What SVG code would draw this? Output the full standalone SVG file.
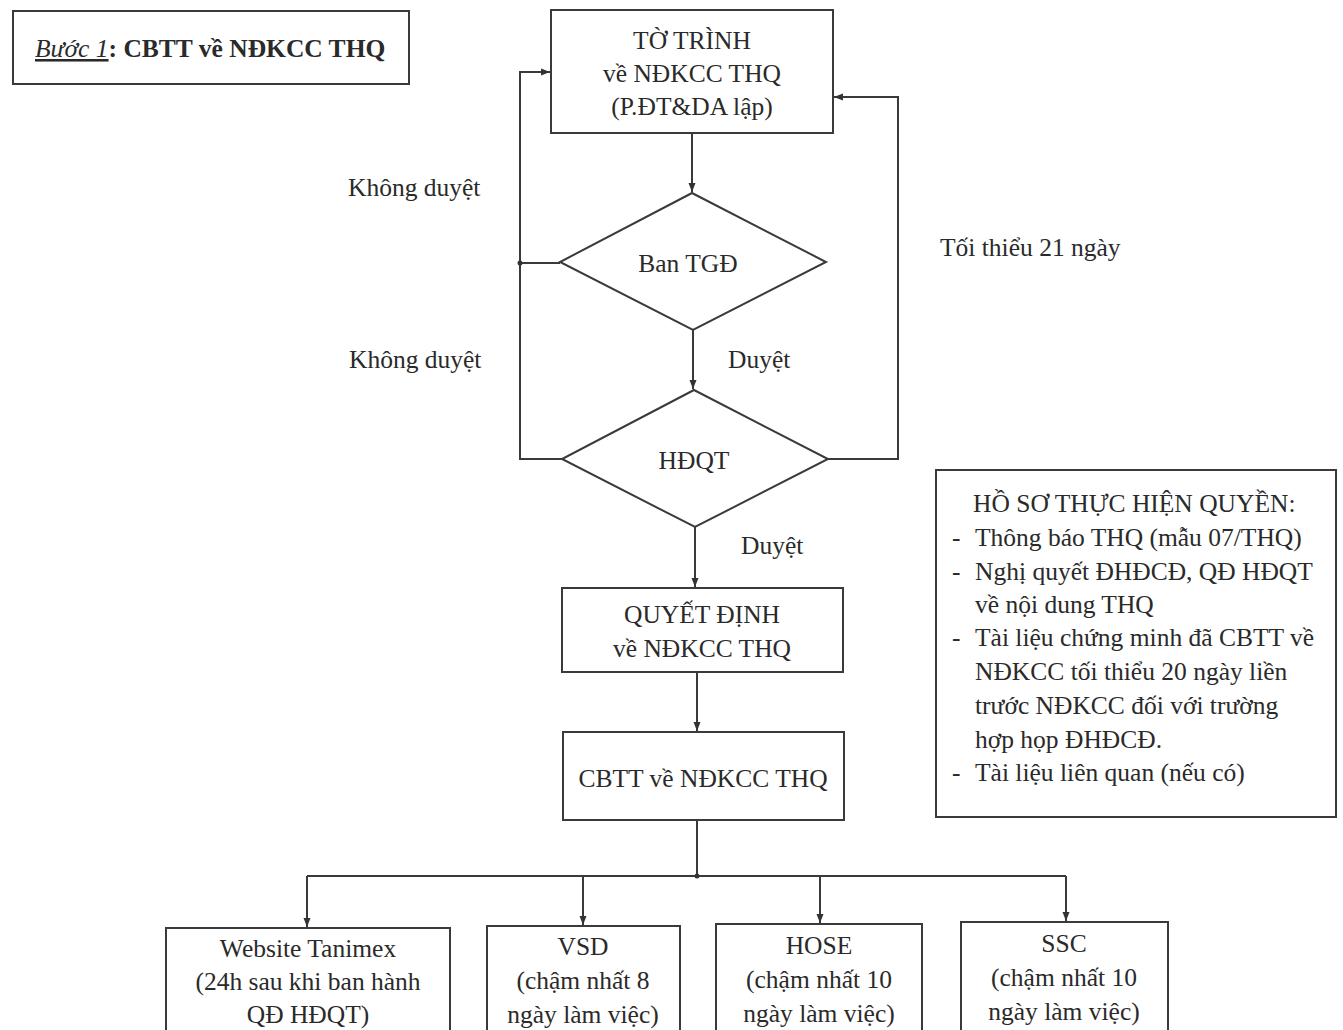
<svg xmlns="http://www.w3.org/2000/svg" width="1343" height="1030" viewBox="0 0 1343 1030" font-family="Liberation Serif, Times New Roman, serif">
<defs>
<marker id="arr" markerUnits="userSpaceOnUse" markerWidth="10" markerHeight="10" viewBox="0 0 10 10" refX="9" refY="5" orient="auto">
<path d="M0,1.5 L9,5 L0,8.5 Z" fill="#333"/>
</marker>
<style>
text{font-family:'Liberation Serif','Times New Roman',serif;font-size:25.5px;fill:#2a2a2a}
.c{text-anchor:middle}
.box{fill:#fff;stroke:#3a3a3a;stroke-width:2}
.ln{fill:none;stroke:#3a3a3a;stroke-width:2}
</style>
</defs>
<rect width="1343" height="1030" fill="#fff"/>

<g id="title">
<rect class="box" x="13" y="11" width="396" height="73"/>
<text x="35" y="57" style="font-size:25.5px"><tspan font-style="italic" text-decoration="underline">Bước 1</tspan><tspan font-weight="bold">: CBTT về NĐKCC THQ</tspan></text>
</g>

<g id="connectors">
<path class="ln" d="M692,133 V192" marker-end="url(#arr)"/>
<path class="ln" d="M693,330 V389" marker-end="url(#arr)"/>
<path class="ln" d="M695,527 V587" marker-end="url(#arr)"/>
<path class="ln" d="M697,672 V731" marker-end="url(#arr)"/>
<path class="ln" d="M697,820 V876"/>
<path class="ln" d="M307,876 H1066"/>
<path class="ln" d="M307,876 V927" marker-end="url(#arr)"/>
<path class="ln" d="M583,876 V925" marker-end="url(#arr)"/>
<path class="ln" d="M820,876 V923" marker-end="url(#arr)"/>
<path class="ln" d="M1066,876 V921" marker-end="url(#arr)"/>
<path class="ln" d="M562,459 H520 V72 H550" marker-end="url(#arr)"/>
<path class="ln" d="M560,263 H520"/>
<circle cx="520" cy="263" r="2.5" fill="#333"/>
<path class="ln" d="M827,459 H898 V97 H834" marker-end="url(#arr)"/>
<circle cx="697" cy="876" r="2.5" fill="#333"/>
</g>

<g id="to-trinh">
<rect class="box" x="551" y="10" width="282" height="123"/>
<text class="c" x="692" y="49">TỜ TRÌNH</text>
<text class="c" x="692" y="82">về NĐKCC THQ</text>
<text class="c" x="692" y="115">(P.ĐT&amp;DA lập)</text>
</g>

<g id="ban-tgd">
<polygon class="box" points="692,193 826,262 693,330 560,262"/>
<text class="c" x="688" y="272">Ban TGĐ</text>
</g>

<g id="hdqt">
<polygon class="box" points="694,390 828,459 695,527 562,459"/>
<text class="c" x="694" y="469">HĐQT</text>
</g>

<g id="quyet-dinh">
<rect class="box" x="562" y="588" width="281" height="84"/>
<text class="c" x="702" y="623">QUYẾT ĐỊNH</text>
<text class="c" x="702" y="657">về NĐKCC THQ</text>
</g>

<g id="cbtt">
<rect class="box" x="563" y="732" width="281" height="88"/>
<text class="c" x="703" y="787">CBTT về NĐKCC THQ</text>
</g>

<g id="labels">
<text x="348" y="196">Không duyệt</text>
<text x="349" y="368">Không duyệt</text>
<text x="728" y="368">Duyệt</text>
<text x="741" y="554">Duyệt</text>
<text x="940" y="256">Tối thiểu 21 ngày</text>
</g>

<g id="ho-so">
<rect class="box" x="936" y="470" width="400" height="347"/>
<text x="973" y="512">HỒ SƠ THỰC HIỆN QUYỀN:</text>
<text x="952" y="546">-</text><text x="975" y="546">Thông báo THQ (mẫu 07/THQ)</text>
<text x="952" y="580">-</text><text x="975" y="580">Nghị quyết ĐHĐCĐ, QĐ HĐQT</text>
<text x="975" y="613">về nội dung THQ</text>
<text x="952" y="646">-</text><text x="975" y="646">Tài liệu chứng minh đã CBTT về</text>
<text x="975" y="680">NĐKCC tối thiểu 20 ngày liền</text>
<text x="975" y="714">trước NĐKCC đối với trường</text>
<text x="975" y="748">hợp họp ĐHĐCĐ.</text>
<text x="952" y="781">-</text><text x="975" y="781">Tài liệu liên quan (nếu có)</text>
</g>

<g id="website">
<rect class="box" x="166" y="928" width="284" height="110"/>
<text class="c" x="308" y="957">Website Tanimex</text>
<text class="c" x="308" y="990">(24h sau khi ban hành</text>
<text class="c" x="308" y="1023">QĐ HĐQT)</text>
</g>

<g id="vsd">
<rect class="box" x="487" y="926" width="193" height="112"/>
<text class="c" x="583" y="955">VSD</text>
<text class="c" x="583" y="989">(chậm nhất 8</text>
<text class="c" x="583" y="1023">ngày làm việc)</text>
</g>

<g id="hose">
<rect class="box" x="716" y="924" width="206" height="114"/>
<text class="c" x="819" y="954">HOSE</text>
<text class="c" x="819" y="988">(chậm nhất 10</text>
<text class="c" x="819" y="1022">ngày làm việc)</text>
</g>

<g id="ssc">
<rect class="box" x="961" y="922" width="207" height="116"/>
<text class="c" x="1064" y="952">SSC</text>
<text class="c" x="1064" y="986">(chậm nhất 10</text>
<text class="c" x="1064" y="1020">ngày làm việc)</text>
</g>
</svg>
